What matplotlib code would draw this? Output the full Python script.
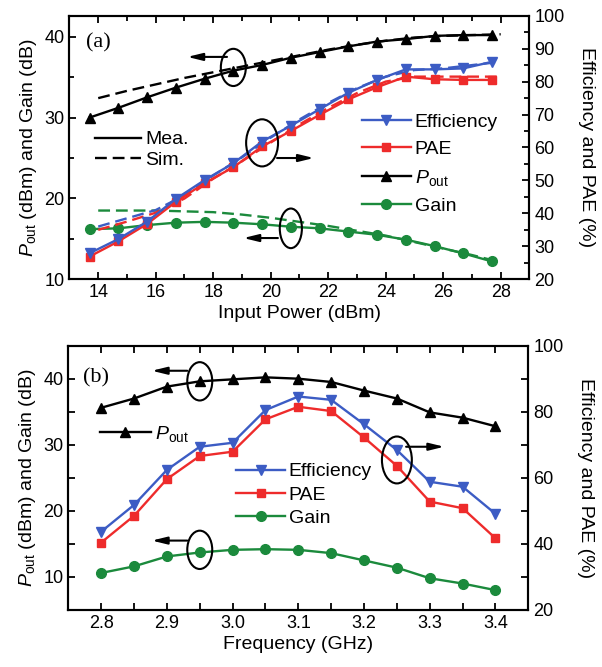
import matplotlib
matplotlib.use("Agg")
from matplotlib import pyplot as plt
from matplotlib.patches import Ellipse
from matplotlib.lines import Line2D
from matplotlib.ticker import MultipleLocator

# Fonts / style
plt.rcParams['font.family'] = ['Liberation Sans', 'DejaVu Sans']
plt.rcParams['mathtext.fontset'] = 'custom'
plt.rcParams['mathtext.rm'] = 'Liberation Sans'
plt.rcParams['mathtext.it'] = 'Liberation Sans:italic'
plt.rcParams['axes.linewidth'] = 1.5

BLUE  = '#3c5cc4'
RED   = '#ee2b2b'
GREEN = '#1b8a3c'
DASH  = (5, 2.5)

# ---- Panel (a): vs input power ----
pin_mea   = [13.7, 14.7, 15.7, 16.7, 17.7, 18.7, 19.7, 20.7, 21.7, 22.7, 23.7, 24.7, 25.7, 26.7, 27.7]
pout_mea  = [30.0, 31.2, 32.5, 33.7, 34.8, 35.8, 36.5, 37.4, 38.1, 38.8, 39.4, 39.7, 40.1, 40.2, 40.2]
gain_mea  = [16.2, 16.3, 16.7, 17.0, 17.1, 17.0, 16.8, 16.5, 16.3, 15.9, 15.5, 14.9, 14.1, 13.2, 12.2]
eff_mea   = [27.9, 32.2, 37.5, 44.4, 50.1, 55.2, 61.8, 66.6, 71.6, 76.6, 80.5, 83.7, 83.7, 84.0, 86.0]
pae_mea   = [26.9, 31.5, 36.8, 43.5, 49.2, 54.0, 60.3, 65.0, 69.9, 74.6, 78.3, 81.5, 80.7, 80.5, 80.5]

pin_sim   = [14, 15, 16, 17, 18, 19, 20, 21, 22, 23, 24, 25, 26, 27, 28]
pout_sim  = [32.4, 33.3, 34.1, 34.9, 35.6, 36.3, 37.0, 37.7, 38.4, 39.0, 39.5, 39.9, 40.1, 40.2, 40.3]
gain_sim  = [18.5, 18.5, 18.5, 18.4, 18.3, 18.0, 17.6, 17.1, 16.6, 16.0, 15.4, 14.6, 13.8, 13.0, 12.1]
eff_sim   = [36.0, 38.5, 41.0, 45.5, 51.5, 57.0, 63.0, 68.5, 73.5, 78.0, 81.5, 83.5, 84.0, 85.0, 86.0]
pae_sim   = [35.0, 37.5, 40.2, 44.5, 50.5, 55.8, 61.5, 67.0, 72.0, 76.5, 80.0, 81.5, 81.5, 81.5, 81.5]

# ---- Panel (b): vs frequency ----
freq      = [2.80, 2.85, 2.90, 2.95, 3.00, 3.05, 3.10, 3.15, 3.20, 3.25, 3.30, 3.35, 3.40]
pout_f    = [35.6, 37.0, 38.8, 39.6, 39.9, 40.2, 40.0, 39.5, 38.2, 37.0, 34.9, 34.1, 32.8]
gain_f    = [10.6, 11.6, 13.1, 13.7, 14.1, 14.2, 14.1, 13.6, 12.5, 11.4, 9.8, 9.0, 8.0]
eff_f     = [43.7, 51.8, 62.4, 69.4, 70.6, 80.5, 84.6, 83.6, 76.2, 68.4, 58.8, 57.3, 49.1]
pae_f     = [40.4, 48.5, 59.6, 66.6, 67.9, 77.7, 81.5, 80.2, 72.2, 63.6, 52.8, 50.8, 41.7]

POUT_LBL = r'$P_{\rm out}$'
LEFT_LBL = r'$P_{\rm out}$ (dBm) and Gain (dB)'
RIGHT_LBL = 'Efficiency and PAE (%)'

fig = plt.figure(figsize=(6.02, 6.67), dpi=100)
axA = fig.add_axes([0.1154, 0.5813, 0.7641, 0.3952])
axB = fig.add_axes([0.1135, 0.0855, 0.7641, 0.3963])
axA2 = axA.twinx()
axB2 = axB.twinx()


def style(ax, ax2):
    ax.tick_params(which='both', direction='in', top=True, right=False, labelsize=13, width=1.3)
    ax.tick_params(which='major', length=5)
    ax.tick_params(which='minor', length=3.5)
    ax2.tick_params(which='both', direction='in', labelsize=13, width=1.3)
    ax2.tick_params(which='major', length=5)
    ax2.tick_params(which='minor', length=3.5)
    for a in (ax, ax2):
        for s in a.spines.values():
            s.set_linewidth(1.5)


def ellipse(ax, xy, w, h):
    ax.add_patch(Ellipse(xy, w, h, fill=False, ec='k', lw=1.5, zorder=6))


def arrow(ax, tail, tip):
    ax.annotate('', xy=tip, xytext=tail,
                arrowprops=dict(arrowstyle='-|>,head_length=0.9,head_width=0.22',
                                color='k', lw=1.5, shrinkA=0, shrinkB=0), zorder=6)


mk = dict(markersize=7, lw=1.7)

# ---------------- (a) ----------------
axA.plot(pin_sim, pout_sim, color='k', lw=1.7, dashes=DASH)
axA.plot(pin_sim, gain_sim, color=GREEN, lw=1.7, dashes=DASH)
axA.plot(pin_mea, pout_mea, color='k', marker='^', **mk)
axA.plot(pin_mea, gain_mea, color=GREEN, marker='o', **mk)
axA2.plot(pin_sim, eff_sim, color=BLUE, lw=1.7, dashes=DASH)
axA2.plot(pin_sim, pae_sim, color=RED, lw=1.7, dashes=DASH)
axA2.plot(pin_mea, pae_mea, color=RED, marker='s', markersize=6, lw=1.7)
axA2.plot(pin_mea, eff_mea, color=BLUE, marker='v', **mk)

axA.set_xlim(13, 29)
axA.set_ylim(10, 42.6)
axA2.set_ylim(20, 100)
axA.xaxis.set_major_locator(MultipleLocator(2))
axA.xaxis.set_minor_locator(MultipleLocator(1))
axA.yaxis.set_major_locator(MultipleLocator(10))
axA.yaxis.set_minor_locator(MultipleLocator(5))
axA2.yaxis.set_major_locator(MultipleLocator(10))
axA2.yaxis.set_minor_locator(MultipleLocator(5))
style(axA, axA2)
axA.set_xlabel('Input Power (dBm)', fontsize=14, labelpad=3)
axA.set_ylabel(LEFT_LBL, fontsize=14, labelpad=4)
axA2.set_ylabel(RIGHT_LBL, fontsize=14, rotation=270, labelpad=22)
axA.text(0.037, 0.896, '(a)', transform=axA.transAxes, family='Liberation Serif',
         fontsize=16, va='center', ha='left')

# annotations (a)
ellipse(axA, (pin_mea[5], 36.2), 0.87, 4.6)
arrow(axA, (18.48, 37.5), (17.1, 37.5))
ellipse(axA2, (pin_mea[6], 61.4), 1.11, 14.3)
arrow(axA2, (20.22, 56.8), (21.5, 56.8))
ellipse(axA, (pin_mea[7], 16.3), 0.77, 4.9)
arrow(axA, (20.25, 15.1), (19.05, 15.1))

# legends (a)
h_ms = [Line2D([], [], color='k', lw=1.7), Line2D([], [], color='k', lw=1.7, dashes=DASH)]
legMS = axA2.legend(h_ms, ['Mea.', 'Sim.'], loc='upper left', bbox_to_anchor=(0.055, 0.563),
                    frameon=False, fontsize=14, handlelength=2.4, handletextpad=0.2,
                    labelspacing=0.15, borderpad=0, borderaxespad=0)
axA2.add_artist(legMS)
h_q = [Line2D([], [], color=BLUE, marker='v', **mk),
       Line2D([], [], color=RED, marker='s', markersize=6, lw=1.7),
       Line2D([], [], color='k', marker='^', **mk),
       Line2D([], [], color=GREEN, marker='o', **mk)]
axA2.legend(h_q, ['Efficiency', 'PAE', POUT_LBL, 'Gain'], loc='upper left',
            bbox_to_anchor=(0.636, 0.631), frameon=False, fontsize=14, numpoints=1,
            handlelength=2.5, handletextpad=0.2, labelspacing=0.5, borderpad=0,
            borderaxespad=0)

# ---------------- (b) ----------------
axB.plot(freq, pout_f, color='k', marker='^', **mk)
axB.plot(freq, gain_f, color=GREEN, marker='o', **mk)
axB2.plot(freq, pae_f, color=RED, marker='s', markersize=6, lw=1.7)
axB2.plot(freq, eff_f, color=BLUE, marker='v', **mk)

axB.set_xlim(2.75, 3.45)
axB.set_ylim(5, 45)
axB2.set_ylim(20, 100)
axB.xaxis.set_major_locator(MultipleLocator(0.1))
axB.xaxis.set_minor_locator(MultipleLocator(0.05))
axB.xaxis.set_major_formatter('{x:.1f}')
axB.yaxis.set_major_locator(MultipleLocator(10))
axB.yaxis.set_minor_locator(MultipleLocator(5))
axB2.yaxis.set_major_locator(MultipleLocator(20))
axB2.yaxis.set_minor_locator(MultipleLocator(10))
style(axB, axB2)
axB.tick_params(which='minor', length=5)
axB2.tick_params(which='minor', length=5)
axB.set_xlabel('Frequency (GHz)', fontsize=14, labelpad=3)
axB.set_ylabel(LEFT_LBL, fontsize=14, labelpad=4)
axB2.set_ylabel(RIGHT_LBL, fontsize=14, rotation=270, labelpad=22)
axB.text(0.032, 0.878, '(b)', transform=axB.transAxes, family='Liberation Serif',
         fontsize=16, va='center', ha='left')

# annotations (b)
ellipse(axB, (freq[3], 39.6), 0.038, 5.8)
arrow(axB, (2.931, 41.2), (2.877, 41.2))
ellipse(axB, (freq[3], 14.1), 0.038, 5.8)
arrow(axB, (2.931, 15.5), (2.877, 15.5))
ellipse(axB2, (freq[9], 65.4), 0.0455, 14.2)
arrow(axB2, (3.264, 69.4), (3.322, 69.4))

# legends (b)
legP = axB2.legend([Line2D([], [], color='k', marker='^', **mk)], [POUT_LBL], loc='upper left',
                   bbox_to_anchor=(0.069, 0.704), frameon=False, fontsize=14, numpoints=1,
                   handlelength=2.6, handletextpad=0.2, borderpad=0, borderaxespad=0)
axB2.add_artist(legP)
axB2.legend([h_q[0], h_q[1], h_q[3]], ['Efficiency', 'PAE', 'Gain'], loc='upper left',
            bbox_to_anchor=(0.365, 0.557), frameon=False, fontsize=14, numpoints=1,
            handlelength=2.5, handletextpad=0.2, labelspacing=0.3, borderpad=0,
            borderaxespad=0)

fig.savefig('out.png', dpi=100)
